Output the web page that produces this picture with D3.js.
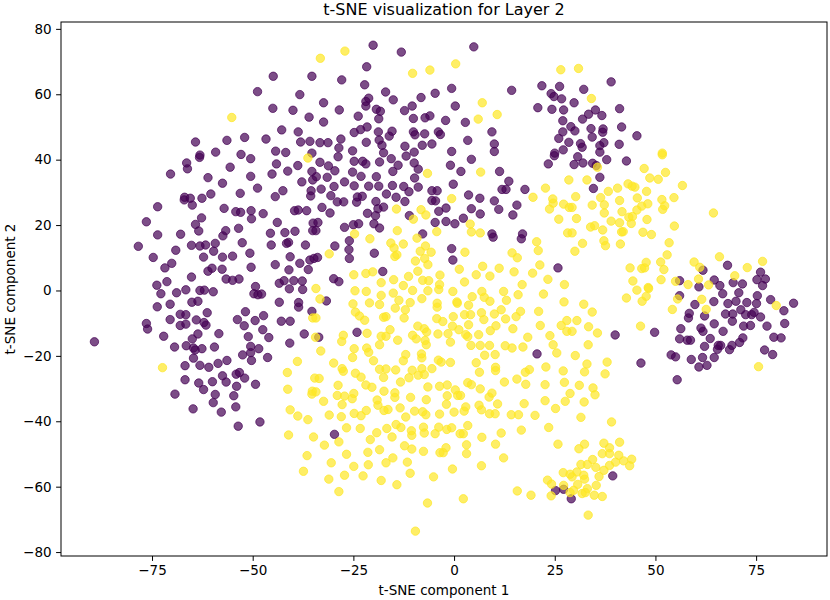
<!DOCTYPE html>
<html>
<head>
<meta charset="utf-8">
<script src="https://cdn.jsdelivr.net/npm/d3@7"></script>
<style>
  body { margin: 0; background: #fff; }
  svg text { font-family: "DejaVu Sans", sans-serif; fill: #000; }
</style>
</head>
<body>
<svg id="chart" width="830" height="600"></svg>
<script>
// points, [t-SNE 1, t-SNE 2]
const purplePts = [
  [-44.9,65.5],[-35.3,65.5],[-48.8,60.8],[-38.3,59.9],[-45.0,55.7],[-40.0,55.1],[-36.0,53.0],[-42.8,49.1],[-38.7,48.5],[-64.2,45.4],[-56.4,45.9],[-52.0,46.8],[-46.7,46.3],[-38.1,45.4],[-35.8,45.6],[-59.2,42.3],[-52.9,41.6],[-44.3,42.6],[-41.8,42.2],[-63.1,41.4],[-35.3,42],
  [-20.1,75.0],[-13.1,72.9],[4.9,74.5],[-21.7,68.4],[-27.9,64.4],[-22.2,62.9],[-17.0,60.7],[-0.6,61.8],[14.3,61.2],[21.8,62.6],[26.2,62.4],[-32.4,57.4],[-21.9,57.8],[-21.2,58.8],[-15.1,58.3],[-8.2,59.0],[-4.7,60.3],[-21.9,56.4],[-28.5,55.2],[-19.3,55.4],[-18.3,54.8],[-12.3,55.0],[-10.4,56.4],[0.3,56.4],[24.1,60.2],[24.8,59.3],[26.7,58.6],[20.8,55.9],[24.3,55.4],[27.2,55.2],[-23.8,53.3],[-18.7,52.5],[-10.1,52.6],[-7.2,52.8],[-6.0,53.4],[-2.1,52.0],[2.8,51.4],[27.0,51.9],[-32.4,51.5],[-21.6,50.0],[-23.2,49.2],[-24.8,48.3],[-18.8,48.5],[-15.4,48.7],[-16.1,47.2],[-10.1,48.5],[-9.7,47.6],[-7.3,47.9],[-3.9,48.5],[-3.4,47.7],[9.4,48.5],[27.0,48.5],[29.0,50.1],[-33.3,45.2],[-31.3,45.2],[-28.1,46.3],[-28.6,43.6],[-21.8,45.3],[-18.6,46.0],[-17.9,44.4],[-12.2,44.1],[-7.9,44.4],[-5.5,44.8],[3.4,45.9],[10.0,44.8],[26.0,46.5],[28.5,45.3],[27.1,43.0],[-25.2,42.7],[-17.5,42.1],[-9.9,42.3],[-0.6,42.5],[10.0,42.5],[25.0,42],
  [39.0,63.8],[32.2,61.5],[29.8,57.4],[41.1,55.6],[35.1,55.2],[33.4,53.9],[36.7,53.5],[31.9,52.4],[41.6,50.0],[34.0,49.5],[37.0,49.4],[36.9,48.4],[30.0,48.8],[34.3,46.9],[45.4,47.3],[31.4,44.9],[31.8,43.8],[36.2,44.3],[37.2,45.2],[41.0,44.7],[36.2,42.3],
  [-66.4,39.0],[-63.2,40.7],[-50.5,40.3],[-70.4,35.6],[-66.2,37.2],[-55.6,37.7],[-44.1,38.7],[-41.3,36.5],[-38.8,38.2],[-35.3,36.4],[-61.1,34.5],[-57.5,32.8],[-50.5,34.9],[-45.2,35.6],[-37.8,33.2],[-35.1,33.8],[-48.8,31.3],[-53.1,29.7],[-42.5,30.5],[-44.4,28.7],[-35.5,30.5],[-35.6,28.9],[-66.9,28.5],[-67.0,27.7],[-65.5,28.2],[-65.0,26.1],[-62.6,28.2],[-60.4,29.5],[-73.6,25.6],[-57.1,25.1],[-54.2,24.1],[-53.0,23.9],[-50.4,24.4],[-50.3,21.9],[-47.4,23.5],[-39.6,24.4],[-38.7,24.6],[-36.6,24.4],[-76.4,21.0],[-62.7,22.2],[-64.2,20.2],[-63.4,18.2],[-43.9,20.8],[-35.0,20.6],[-73.6,17.0],[-67.9,17.2],[-57.4,16.7],[-56.7,18.3],[-53.5,19.0],[-45.6,17.5],[-42.0,17.7],[-39.5,18.1],[-35.1,18.3],[-78.4,13.5],[-69.1,12.3],[-65.2,13.8],[-63.1,13.6],[-61.7,13.9],[-59.3,14.4],[-59.7,12.0],[-52.6,14.6],[-45.4,13.9],[-41.6,14.4],[-41.1,14.7],[-36.9,13.9],[-74.7,10.1],[-62.2,10.2],[-57.5,10.2],[-55.0,10.5],[-50.7,11.4],[-40.7,10.3],[-70.1,8.3],[-71.8,6.9],[-61.1,5.9],[-60.1,6.8],[-57.6,6.5],[-50.4,7.1],[-44.4,7.9],[-38.3,8.3],[-35.8,9.3],[-34.8,9.8],[-41.0,6.3],[-36.2,6.4],[-65.2,4.1],[-71.3,2.7],[-73.8,1.6],[-56.6,3.5],[-55.0,3.1],[-53.4,3.5],[-49.3,1.2],[-43.4,2.2],[-42.2,3.0],[-39.8,3.0],[-37.7,2.9],
  [-28.8,40.9],[-24.8,39.5],[-22.7,39.5],[-18.5,39.3],[-15.6,40.3],[-11.9,41.1],[-9.9,39.0],[-0.9,38.3],[4.3,40.1],[23.4,38.7],[24.9,41.2],[-33.3,39.2],[-31.2,38.1],[-29.6,36.6],[-25.2,36.2],[-21.9,38.7],[-15.2,36.4],[-13.9,38.3],[-8.9,37.1],[1.7,36.4],[11.3,36.4],[-31.5,34.6],[-27.2,33.2],[-24.8,32.0],[-23.1,34.9],[-19.3,34.8],[-9.8,34.4],[-34.2,34.8],[13.6,33.4],[11.9,30.9],[12.9,30.9],[17.6,30.9],[-33.0,31.0],[-29.8,31.8],[-21.2,31.9],[-18.7,31.9],[-15.3,32.1],[-12.5,31.8],[-11.2,30.2],[-8.9,31.6],[-5.5,30.5],[-4.2,30.5],[-0.2,32.5],[-30.6,29.0],[-29.0,27.1],[-27.4,27.1],[-24.2,27.0],[-24.0,28.6],[-22.8,28.8],[-16.8,29.5],[-14.4,28.5],[-12.2,27.2],[-5.5,27.5],[-4.6,27.4],[3.6,29.2],[6.4,28.2],[10.0,27.4],[-32.8,25.4],[-30.8,23.7],[-19.4,27.2],[-17.5,25.5],[-18.9,25.0],[-21.5,23.6],[-19.5,22.9],[-2.0,25.2],[-3.8,24.2],[4.3,25.0],[11.1,24.8],[15.6,26.1],[6.5,23.4],[14.6,23.1],[-11.1,22.9],[-4.7,20.8],[-2.0,21.1],[0.2,20.4],[2.3,22.1],[-33.8,20.8],[-34.3,18.3],[-27.2,19.3],[-25.0,20.1],[-23.7,20.4],[-19.9,20.4],[-18.5,19.1],[-7.8,17.3],[9.4,17.3],[9.7,16.3],[17.0,17.3],[16.7,15.8],[-26.0,15.2],[-29.6,13.6],[-26.1,12.5],[-19.8,11.4],[-0.6,12.8],[-26.0,9.8],[-0.3,9.3],[-17.7,5.8],[25.8,6.9],[-29.9,3.6],[-28.6,2.7],[-33.9,10.1],
  [30.7,40.9],[32.0,39.0],[34.4,38.9],[35.3,38.2],[37.9,40.0],[42.8,39.6],[36.2,34.6],[34.6,31.2],[29.8,38.5],[67.9,7.7],[61.8,6.2],[76.1,5.6],[77.3,3.5],[75.2,3.3],[76.6,1.5],[56.0,3.0],[64.6,3.2],[66.0,1.5],[69.3,2.4],[71.6,2.0],[60.8,1.1],
  [-72.8,-1.0],[-68.9,-0.7],[-66.6,0.2],[-63.1,0.0],[-62.0,0.1],[-59.8,-0.4],[-49.7,-1.0],[-48.7,-1.3],[-47.8,-1.1],[-40.9,0.5],[-37.6,0.3],[-73.7,-5.0],[-70.5,-4.2],[-65.1,-3.6],[-63.6,-3.3],[-61.3,-6.8],[-43.4,-3.6],[-38.6,-3.7],[-38.6,-5.1],[-35.3,-6.4],[-76.4,-10.1],[-76.1,-11.8],[-70.5,-8.9],[-68.0,-7.3],[-66.6,-7.4],[-68.0,-10.7],[-66.6,-10.3],[-64.0,-9.0],[-62.1,-9.8],[-61.6,-10.6],[-51.8,-6.5],[-53.8,-8.9],[-52.1,-10.8],[-49.4,-9.2],[-47.3,-7.7],[-42.9,-9.4],[-40.7,-9.4],[-89.3,-15.7],[-72.1,-14.0],[-63.6,-13.3],[-65.0,-14.8],[-58.4,-13.2],[-69.4,-17.3],[-66.5,-16.9],[-64.7,-17.6],[-64.3,-18.2],[-62.6,-17.8],[-59.5,-17.3],[-51.1,-14.1],[-47.5,-12.0],[-46.0,-14.4],[-37.2,-13.3],[-40.8,-16.1],[-50.5,-17.1],[-48.5,-17.8],[-52.5,-19.7],[-50.5,-19.0],[-50.3,-21.4],[-46.3,-20.5],[-64.7,-20.7],[-66.8,-23.0],[-63.1,-22.9],[-60.9,-23.5],[-58.6,-22.3],[-56.4,-21.4],[-66.8,-27.3],[-63.4,-28.3],[-62.2,-30.3],[-60.0,-27.9],[-57.5,-26.1],[-56.6,-28.0],[-54.1,-25.6],[-53.3,-25.1],[-52.0,-26.8],[-54.0,-29.3],[-49.3,-28.7],[-54.7,-32.2],[-59.3,-31.8],[-59.8,-34.3],[-69.3,-31.7],[-64.8,-36.2],[-57.8,-37.2],[-54.2,-35.6],[-48.2,-40.2],[-53.6,-41.5],
  [-31.7,-3.2],[-33.6,-14.3],[-24.1,-12.8],[20.6,-19.4],
  [40.0,-13.6],[49.8,-12.8],[46.4,-22.2],[55.4,-27.3],[56.0,-1.6],[66.7,-1.0],[70.7,-0.7],[75.3,-1.6],[59.8,-4.3],[64.5,-3.4],[68.0,-4.0],[70.0,-3.3],[72.7,-3.7],[75.1,-4.0],[78.6,-2.8],[84.3,-3.9],[81.9,-6.2],[58.4,-7.0],[58.2,-8.4],[62.2,-7.8],[67.4,-7.2],[69.2,-7.2],[71.2,-5.9],[72.4,-7.4],[73.9,-7.4],[74.5,-6.7],[76.1,-8.1],[69.1,-9.4],[64.6,-10.2],[71.9,-10.9],[73.6,-10.7],[77.7,-10.9],[82.1,-10.1],[56.3,-11.7],[61.3,-11.5],[61.8,-12.5],[66.8,-12.5],[56.0,-14.8],[57.9,-15.2],[58.7,-15.2],[63.6,-14.7],[71.7,-14.5],[70.9,-15.9],[79.4,-14.3],[81.2,-14.5],[62.2,-17.1],[65.6,-16.8],[66.2,-16.8],[69.0,-16.8],[65.4,-18.0],[68.4,-18.1],[77.1,-18.2],[79.1,-19.6],[53.9,-19.7],[55.0,-20.3],[58.9,-21.1],[61.7,-20.5],[64.6,-20.5],[60.8,-23.4],[62.8,-22.9],
  [-29.7,-44.0],[25.2,-61.2],[27.2,-60.8],[29.1,-63.7],[39.4,-56.7]
];

const yellowPts = [
  [-55.2,52.9],[-33.2,71.0],[-27.1,73.2],[-10.3,66.4],[-6.0,67.4],[0.4,69.3],[26.5,67.5],[7.0,57.4],[6.0,52.4],[10.7,53.8],[30.9,67.9],[34.1,58.7],[51.7,42.0],[-36.3,40.5],
  [-6.6,35.8],[6.6,36.2],[28.5,33.8],[-0.6,28.1],[19.6,28.5],[22.7,31.3],[24.5,28.0],[24.6,26.7],[27.2,26.4],[23.7,24.9],[28.6,25.4],[26.0,21.8],[-14.3,24.9],[-8.2,24.7],[-7.0,23.1],[-10.1,21.8],[4.0,20.3],[4.3,17.9],[6.5,17.6],[-4.3,18.0],[-14.1,18.3],[-9.2,16.0],[-24.7,17.3],[-20.9,15.8],[-15.7,14.5],[-14.9,13.0],[-12.6,14.2],[-7.1,13.6],[-8.4,12.0],[-5.7,11.7],[-31.0,11.2],[-14.7,10.4],[-14.2,10.9],[-9.6,9.0],[-7.3,9.8],[-6.5,7.9],[2.7,11.7],[14.4,11.5],[15.7,10.0],[20.5,14.9],[20.9,12.2],[21.3,7.8],[28.2,17.6],[-9.0,5.9],[1.3,6.5],[7.1,7.4],[11.2,6.8],[14.9,5.7],[19.5,5.3],[23.3,3.4],[27.4,1.8],[-24.9,4.8],[-21.9,5.2],[-20.2,5.7],[-18.1,2.4],[-15.0,3.3],[-12.6,1.5],[-11.3,4.3],[-7.8,3.1],[-6.3,3.0],[-3.5,4.7],[-3.6,1.8],[2.6,2.6],[5.5,4.8],[8.9,4.4],[16.9,1.8],
  [51.7,41.5],[47.2,37.3],[35.6,37.7],[52.5,36.1],[33.0,33.8],[48.6,34.4],[50.7,34.0],[40.6,31.3],[38.3,30.3],[43.2,32.6],[44.2,31.9],[44.9,31.6],[47.8,30.3],[56.7,32.1],[30.2,28.7],[36.4,28.4],[41.1,27.5],[45.5,28.3],[51.6,27.8],[54.6,28.4],[34.3,26.1],[37.3,26.2],[29.3,25.4],[48.1,26.5],[46.6,25.8],[52.3,25.9],[51.8,24.8],[37.3,23.7],[41.7,24.1],[45.4,24.6],[64.4,23.7],[30.4,22.0],[39.0,21.2],[41.1,20.7],[43.4,22.4],[44.3,22.6],[44.0,20.5],[47.9,21.7],[33.9,19.4],[34.9,19.8],[36.9,18.5],[41.6,17.9],[42.0,18.0],[46.9,17.8],[49.0,17.1],[54.7,19.7],[29.3,17.6],[37.2,15.2],[37.6,13.7],[41.3,14.2],[31.9,14.4],[30.0,12.0],[53.4,14.6],[52.9,10.9],[65.9,10.3],[59.6,8.7],[61.0,7.1],[51.3,8.7],[47.7,8.6],[46.6,6.7],[47.3,6.9],[52.1,6.4],[43.7,6.9],[72.8,7.0],[76.6,8.9],[69.7,4.5],[44.4,2.9],[51.4,3.3],[55.0,2.8],[60.7,3.5],[58.1,1.8],[63.2,1.7],[48.2,0.9],
  [-72.4,-23.6],[-35.1,-8.4],[-34.4,-14.3],[-38.9,-21.7],[-41.4,-25.1],[-41.3,-30.2],[-35.2,-30.8],[-35.3,-31.7],[-40.7,-36.5],[-38.8,-38.4],[-36.3,-39.5],[-34.6,-26.8],
  [-41.1,-44.2],[-34.9,-44.8],[-36.5,-50.5],[-37.4,-55.3],
  [-24.6,-0.1],[-21.8,-0.3],[-18.1,-1.5],[-15.1,-0.8],[-10.3,0.0],[-6.5,-0.1],[-3.8,0.3],[-0.3,-0.3],[4.5,-1.9],[6.9,-0.3],[7.5,-2.1],[8.9,-3.3],[12.3,-0.3],[15.9,-1.3],[22.2,-1.1],[27.3,-3.5],[-33.3,-2.6],[-25.1,-4.1],[-21.0,-3.8],[-18.5,-4.3],[-13.7,-3.0],[-14.6,-5.4],[-10.9,-3.7],[-12.1,-5.9],[-12.4,-8.4],[-8.0,-2.5],[-4.2,-3.9],[-4.2,-5.1],[0.7,-3.5],[0.8,-3.9],[3.6,-4.5],[13.0,-3.0],[16.5,-6.4],[15.4,-8.0],[21.0,-6.4],[-24.5,-6.6],[-23.5,-7.8],[-22.2,-9.1],[-17.5,-8.2],[-16.9,-8.0],[-4.3,-8.6],[-2.8,-9.5],[-0.2,-8.0],[2.6,-7.4],[4.1,-7.4],[6.8,-6.8],[7.4,-8.9],[10.0,-7.2],[11.7,-5.9],[12.8,-8.7],[28.0,-9.2],[-34.3,-8.4],[-0.4,-10.9],[3.6,-10.5],[1.2,-12.0],[10.4,-10.8],[9.0,-12.3],[14.6,-11.7],[21.4,-10.7],[26.6,-10.7],[28.0,-12.5],[-9.0,-10.9],[-7.4,-11.7],[-6.8,-12.7],[-15.9,-12.0],[-18.1,-14.0],[-16.9,-14.0],[-14.0,-15.2],[-21.6,-13.1],[-27.5,-13.7],[-27.9,-15.6],[-10.3,-13.7],[-9.4,-14.8],[-4.0,-13.3],[-1.5,-13.2],[-0.9,-15.8],[2.9,-13.5],[3.4,-14.1],[6.1,-13.5],[-7.2,-15.3],[-6.9,-16.6],[-18.5,-16.6],[-12.0,-19.6],[-8.1,-19.4],[-8.0,-20.6],[-21.7,-17.6],[-21.2,-18.9],[-20.0,-21.5],[-24.8,-17.8],[-25.2,-20.5],[-33.1,-18.5],[-29.9,-22.2],[-27.8,-23.9],[-27.5,-24.7],[4.2,-16.8],[6.5,-16.8],[8.8,-16.8],[7.6,-19.8],[10.2,-19.6],[12.7,-16.9],[14.4,-17.6],[17.1,-17.3],[18.3,-14.3],[23.8,-13.8],[24.6,-16.6],[25.5,-19.1],[-12.6,-21.5],[-10.4,-24.4],[-8.0,-23.9],[-7.4,-25.7],[-5.5,-23.9],[-3.9,-21.3],[-3.2,-21.9],[-0.9,-22.0],[-18.5,-24.1],[-16.9,-24.0],[-14.5,-24.3],[-17.5,-26.6],[-24.5,-25.3],[-23.1,-26.5],[-21.9,-28.9],[-20.4,-29.6],[-13.3,-28.0],[-11.2,-26.7],[-8.9,-25.9],[5.5,-22.1],[6.3,-25.0],[10.3,-23.5],[10.3,-24.5],[17.7,-25.0],[18.7,-24.2],[15.6,-27.1],[17.8,-28.7],[12.5,-28.0],[22.8,-23.4],[27.1,-24.6],[27.4,-28.1],[22.6,-28.8],[-33.5,-26.9],[-28.8,-29.0],[-34.3,-31.0],[-29.0,-32.1],[-27.2,-32.3],[-24.9,-31.5],[-25.3,-33.1],[-27.8,-34.9],[-32.4,-33.9],[-19.1,-33.5],[-18.9,-35.1],[-17.4,-30.8],[-14.7,-31.3],[-14.7,-32.7],[-10.8,-32.7],[-6.9,-33.4],[-6.5,-29.5],[-3.6,-29.3],[-1.7,-28.9],[0.3,-30.4],[0.9,-32.1],[1.6,-32.1],[-1.7,-32.2],[-1.9,-34.8],[3.4,-28.2],[4.3,-28.8],[6.5,-30.1],[8.7,-32.6],[9.4,-31.4],[10.8,-34.7],[2.9,-35.6],[6.2,-35.1],[6.8,-36.5],[2.5,-36.9],[0.0,-37.2],[-3.6,-37.8],[-7.0,-38.0],[-7.8,-37.1],[-9.8,-36.9],[-13.4,-35.9],[-16.4,-36.4],[-17.4,-36.7],[-21.8,-36.7],[-12.0,-38.7],[-24.8,-37.6],[-23.1,-38.3],[-28.0,-38.6],[-31.0,-38.1],[8.8,-37.7],[10.2,-37.7],[14.2,-38.0],[16.0,-38.0],[20.1,-38.2],[17.4,-34.6],[22.6,-33.7],[25.2,-36.1],[27.6,-33.9],[28.8,-31.5],[-34.3,0.6],
  [42.8,-2.3],[45.4,0.1],[46.7,-3.3],[47.7,-1.8],[48.3,0.6],[32.2,-4.2],[34.3,-6.6],[30.5,-9.2],[33.4,-11.1],[35.6,-13.0],[29.3,-12.5],[33.3,-16.6],[46.3,-10.9],[54.2,-5.8],[55.5,-2.6],[61.5,-2.7],[62.6,-5.8],[80.0,-4.6],[75.6,-23.3],[30.1,-19.9],[33.0,-22.5],[32.4,-24.9],[38.0,-21.9],[37.5,-25.5],[31.1,-29.0],[34.5,-29.8],[35.0,-31.9],[32.3,-34.1],[31.5,-38.8],[39.1,-40.2],
  [-32.2,-47.3],[-28.6,-46.3],[-26.7,-42.0],[-23.3,-42.2],[-20.8,-45.6],[-19.2,-43.5],[-16.7,-42.2],[-15.4,-44.8],[-14.4,-41.0],[-13.2,-41.9],[-10.6,-42.9],[-10.5,-44.3],[-7.6,-41.8],[-7.4,-43.6],[-4.7,-43.8],[-3.8,-41.8],[-1.8,-42.5],[-0.6,-42.0],[1.5,-43.8],[2.3,-43.8],[3.4,-41.3],[6.9,-44.9],[11.7,-43.6],[16.7,-42.7],[23.5,-41.9],[25.8,-47.0],[10.3,-47.0],[3.1,-47.2],[-2.0,-48.1],[-3.5,-49.6],[-2.7,-49.6],[-7.6,-49.2],[-10.5,-48.5],[-12.3,-47.5],[-18.5,-48.7],[-21.4,-49.5],[-26.7,-50.1],[3.1,-49.9],[12.3,-51.2],[-30.5,-52.7],[-24.9,-53.8],[-21.3,-53.3],[-16.9,-52.7],[-15.2,-51.2],[-11.6,-52.5],[-0.4,-54.6],[6.8,-53.6],[-31.1,-57.7],[-27.2,-56.5],[-22.6,-56.7],[-18.1,-58.1],[-14.2,-59.4],[-10.9,-55.9],[-5.1,-57.0],[-28.6,-61.5],[-6.6,-65.0],[2.3,-63.7],[-9.6,-73.6],[15.7,-61.3],[19.1,-62.6],[23.2,-58.0],[24.2,-59.2],[24.1,-62.8],[27.1,-55.7],[27.2,-59.6],[28.8,-56.2],[28.8,-61.8],
  [31.0,-48.4],[32.4,-47.0],[37.2,-46.7],[38.6,-48.1],[41.1,-46.4],[36.8,-49.9],[38.6,-49.9],[40.9,-50.4],[34.4,-51.7],[42.1,-52.1],[44.1,-51.6],[43.6,-53.6],[31.5,-53.2],[33.1,-53.2],[35.2,-54.1],[38.6,-53.5],[40.1,-52.5],[37.2,-55.0],[30.5,-55.5],[32.2,-56.5],[36.0,-56.9],[29.3,-57.0],[32.4,-57.7],[30.7,-59.3],[35.3,-59.6],[33.1,-60.6],[29.7,-61.1],[31.8,-62.1],[32.6,-61.8],[34.8,-62.6],[36.8,-63.0],[33.3,-68.7]
];

const xTicks = [-75, -50, -25, 0, 25, 50, 75];
const yTicks = [-80, -60, -40, -20, 0, 20, 40, 60, 80];

const titleText = "t-SNE visualization for Layer 2";
const xLabel = "t-SNE component 1";
const yLabel = "t-SNE component 2";

// mise en page
const svg = d3.select("#chart");
const plotL = 61, plotR = 827, plotT = 22, plotB = 556;

const x = d3.scaleLinear().domain([-97.6, 92.6]).range([plotL, plotR]);
const y = d3.scaleLinear().domain([-81.2, 82.1]).range([plotB, plotT]);

// points, purple first then yellow
const allPts = purplePts.map(d => ({ x: d[0], y: d[1], c: "#440154" }))
  .concat(yellowPts.map(d => ({ x: d[0], y: d[1], c: "#fde725" })));

svg.append("g")
  .selectAll("circle")
  .data(allPts)
  .enter()
  .append("circle")
  .attr("cx", d => x(d.x))
  .attr("cy", d => y(d.y))
  .attr("r", 4.2)
  .attr("fill", d => d.c)
  .attr("fill-opacity", 0.7)
  .attr("stroke", d => d.c)
  .attr("stroke-opacity", 0.7)
  .attr("stroke-width", 1);

// axes
const xAxis = svg.append("g")
  .attr("transform", `translate(0,${plotB})`)
  .call(d3.axisBottom(x).tickValues(xTicks).tickSizeOuter(0).tickSize(4.9).tickPadding(4.5));
const yAxis = svg.append("g")
  .attr("transform", `translate(${plotL},0)`)
  .call(d3.axisLeft(y).tickValues(yTicks).tickSizeOuter(0).tickSize(4.9).tickPadding(4.5));

[xAxis, yAxis].forEach(g => {
  g.select(".domain").remove();
  g.selectAll(".tick line").attr("stroke", "#000").attr("stroke-width", 1);
  g.selectAll(".tick text")
    .attr("font-family", "DejaVu Sans")
    .attr("font-size", 13.5)
    .attr("fill", "#000");
});

// cadre
svg.append("rect")
  .attr("x", plotL).attr("y", plotT)
  .attr("width", plotR - plotL).attr("height", plotB - plotT)
  .attr("fill", "none")
  .attr("stroke", "#000")
  .attr("stroke-width", 1);

svg.append("text")
  .attr("x", (plotL + plotR) / 2).attr("y", 15)
  .attr("text-anchor", "middle")
  .attr("font-size", 16)
  .text(titleText);

svg.append("text")
  .attr("x", (plotL + plotR) / 2).attr("y", 595)
  .attr("text-anchor", "middle")
  .attr("font-size", 13.5)
  .text(xLabel);

svg.append("text")
  .attr("transform", `translate(15,${(plotT + plotB) / 2}) rotate(-90)`)
  .attr("text-anchor", "middle")
  .attr("font-size", 13.5)
  .text(yLabel);
</script>
</body>
</html>
